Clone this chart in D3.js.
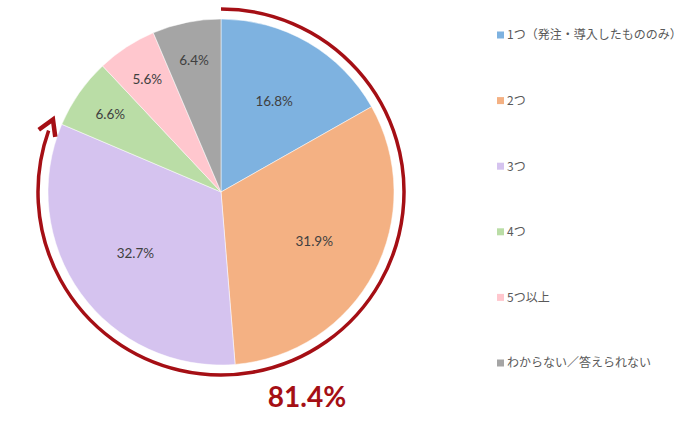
<!DOCTYPE html>
<html>
<head>
<meta charset="utf-8">
<script src="https://cdn.jsdelivr.net/npm/d3@7"></script>
<style>
  html, body { margin: 0; padding: 0; background: #fff; }
  svg { display: block; }
</style>
</head>
<body>
<svg id="chart" width="700" height="433"></svg>
<script>
// ---- DATA ----
const categories = ["1つ（発注・導入したもののみ）", "2つ", "3つ", "4つ", "5つ以上", "わからない／答えられない"];
const values = [16.8, 31.9, 32.7, 6.6, 5.6, 6.4];
const colors = ["#7EB2E0", "#F4B183", "#D5C3EF", "#BADDA6", "#FFC7CE", "#A5A5A5"];
const highlightCount = 3; // first three slices are summed by the red arrow
const highlightLabel = "81.4%";

// ---- LAYOUT ----
const svg = d3.select("#chart");
const cx = 221, cy = 192;
const radius = 173;
const arrowRadius = 183;

const pie = d3.pie().sort(null).value(d => d)
  .startAngle(0).endAngle(2 * Math.PI);
const arcs = pie(values);

const arcGen = d3.arc().innerRadius(0).outerRadius(radius);

const g = svg.append("g").attr("transform", `translate(${cx},${cy})`);

// slices
g.selectAll("path.slice")
  .data(arcs)
  .join("path")
  .attr("class", "slice")
  .attr("d", arcGen)
  .attr("fill", (d, i) => colors[i])
  .attr("stroke", "#fff")
  .attr("stroke-width", 0.5);

// labels: big slices nearer the middle, small ones pushed out
g.selectAll("text.pct")
  .data(arcs)
  .join("text")
  .attr("class", "pct")
  .attr("transform", d => {
    const share = d.value / 100;
    const r = share > 0.12 ? radius * 0.61 : radius * 0.78;
    const a = (d.startAngle + d.endAngle) / 2;
    return `translate(${r * Math.sin(a)},${-r * Math.cos(a)})`;
  })
  .attr("text-anchor", "middle")
  .attr("dy", "0.35em")
  .attr("font-family", "Lato, 'Open Sans', sans-serif")
  .attr("font-size", 13.5)
  .attr("fill", "#404040")
  .text(d => d.value.toFixed(1) + "%");

// ---- RED ARROW ARC ----
const endAngle = arcs[highlightCount - 1].endAngle;
const ringArc = d3.arc()
  .innerRadius(arrowRadius)
  .outerRadius(arrowRadius)
  .startAngle(0)
  .endAngle(endAngle - 0.06);

const arrowColor = "#A50F15";
g.append("path")
  .attr("d", ringArc())
  .attr("fill", "none")
  .attr("stroke", arrowColor)
  .attr("stroke-width", 3.5)
  .attr("stroke-linecap", "round");

// arrowhead: tip at end of arc, pointing along the clockwise tangent
const tipAngle = endAngle + 0.005;
const tipX = arrowRadius * Math.sin(tipAngle);
const tipY = -arrowRadius * Math.cos(tipAngle);
const tanX = Math.cos(tipAngle), tanY = Math.sin(tipAngle); // direction of travel
const normX = Math.sin(tipAngle), normY = -Math.cos(tipAngle);
const headLen = 15, headHalf = 9;
const baseX = tipX - tanX * headLen, baseY = tipY - tanY * headLen;
g.append("path")
  .attr("d", `M${baseX + normX * headHalf},${baseY + normY * headHalf}` +
             `L${tipX},${tipY}` +
             `L${baseX - normX * headHalf},${baseY - normY * headHalf}`)
  .attr("fill", "none")
  .attr("stroke", arrowColor)
  .attr("stroke-width", 4.5)
  .attr("stroke-linejoin", "miter")
  .attr("stroke-linecap", "butt");

svg.append("text")
  .attr("x", 307)
  .attr("y", 407)
  .attr("text-anchor", "middle")
  .attr("font-family", "Lato, 'Open Sans', sans-serif")
  .attr("font-weight", "bold")
  .attr("font-size", 28)
  .attr("fill", "#A50F15")
  .text(highlightLabel);

// ---- LEGEND ----
const legendY = d3.scalePoint()
  .domain(categories)
  .range([35, 363]);

const legend = svg.append("g").attr("class", "legend");
const items = legend.selectAll("g.item")
  .data(categories)
  .join("g")
  .attr("class", "item")
  .attr("transform", d => `translate(497,${legendY(d)})`);

items.append("rect")
  .attr("x", 0)
  .attr("y", -3.5)
  .attr("width", 7)
  .attr("height", 7)
  .attr("fill", (d, i) => colors[i]);

items.append("text")
  .attr("x", 10)
  .attr("dy", "0.36em")
  .attr("font-family", "'Noto Sans CJK JP', sans-serif")
  .attr("font-size", 12)
  .attr("fill", "#595959")
  .text(d => d);
</script>
</body>
</html>
